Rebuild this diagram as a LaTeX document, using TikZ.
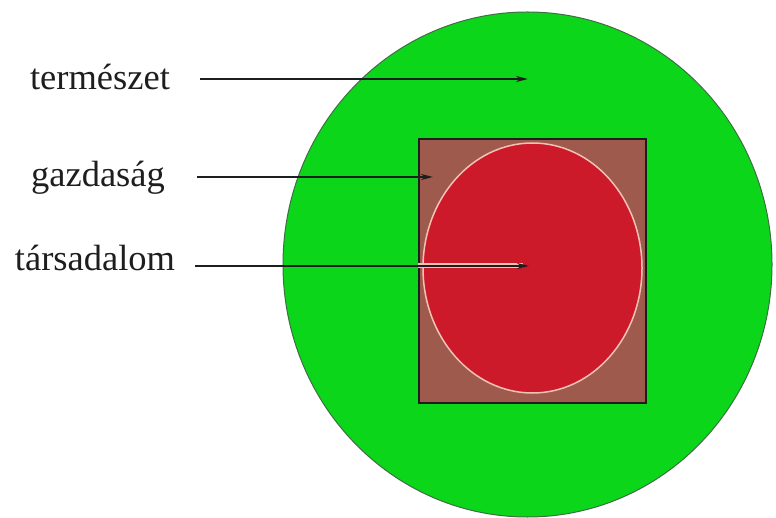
\documentclass[tikz,border=0pt]{standalone}
\usepackage{fontspec}
\setmainfont{Liberation Serif}
\usetikzlibrary{
    shapes.geometric,
    arrows.meta
}
\definecolor{termgreen}{HTML}{0CD61A}
\definecolor{termrim}{HTML}{3F6E45}
\definecolor{gazdbrown}{HTML}{9E5A4C}
\definecolor{tarsred}{HTML}{CC1A2A}
\definecolor{tarsrim}{HTML}{F2C2B4}
\definecolor{inkgray}{HTML}{1E1E1E}
\tikzset{
    >={Stealth[length=12pt,width=6pt,fill=gray!55]},
    label text/.style={
        anchor=base,
        inner sep=0pt,
        text=inkgray,
        font=\fontsize{36.5}{40}\selectfont
    },
    pointer/.style={
        ->,
        draw=inkgray,
        line width=2pt
    },
    rim halo/.style={
        draw=tarsrim,
        line width=5pt
    }
}

\begin{document}
\begin{tikzpicture}[x=1pt, y=-1pt]

    \useasboundingbox (0,0) rectangle (776,518);

    % Halmazok
    \node[ellipse, draw=termrim, line width=1pt, fill=termgreen,
          minimum width=489pt, minimum height=505pt] (termeszet) at (527.5,264.5) {};
    \node[rectangle, draw=inkgray, line width=1.5pt, fill=gazdbrown,
          minimum width=227pt, minimum height=264pt] (gazdasag) at (532.5,271) {};
    \node[ellipse, draw=tarsrim, line width=1.5pt, fill=tarsred,
          minimum width=219pt, minimum height=250pt] (tarsadalom) at (532.5,268) {};

    % Feliratok
    \node[label text] (l-termeszet)  at (100,90)  {természet};
    \node[label text] (l-gazdasag)   at (98,187)  {gazdaság};
    \node[label text] (l-tarsadalom) at (95,271)  {társadalom};

    % Nyilak vegpontjai
    \coordinate (p-termeszet)  at (528,79);
    \coordinate (p-gazdasag)   at (433,177);
    \coordinate (p-tarsadalom) at (529,266);
    \coordinate (s-termeszet)  at (200,79);
    \coordinate (s-gazdasag)   at (197,177);
    \coordinate (s-tarsadalom) at (195,266);
    \coordinate (h-tarsadalom) at (gazdasag.west |- p-tarsadalom);

    % Nyilak
    \draw[rim halo] (h-tarsadalom) -- ([xshift=-6pt]p-tarsadalom);
    \draw[pointer] (s-termeszet)  -- (p-termeszet);
    \draw[pointer] (s-gazdasag)   -- (p-gazdasag);
    \draw[pointer] (s-tarsadalom) -- (p-tarsadalom);

\end{tikzpicture}
\end{document}
